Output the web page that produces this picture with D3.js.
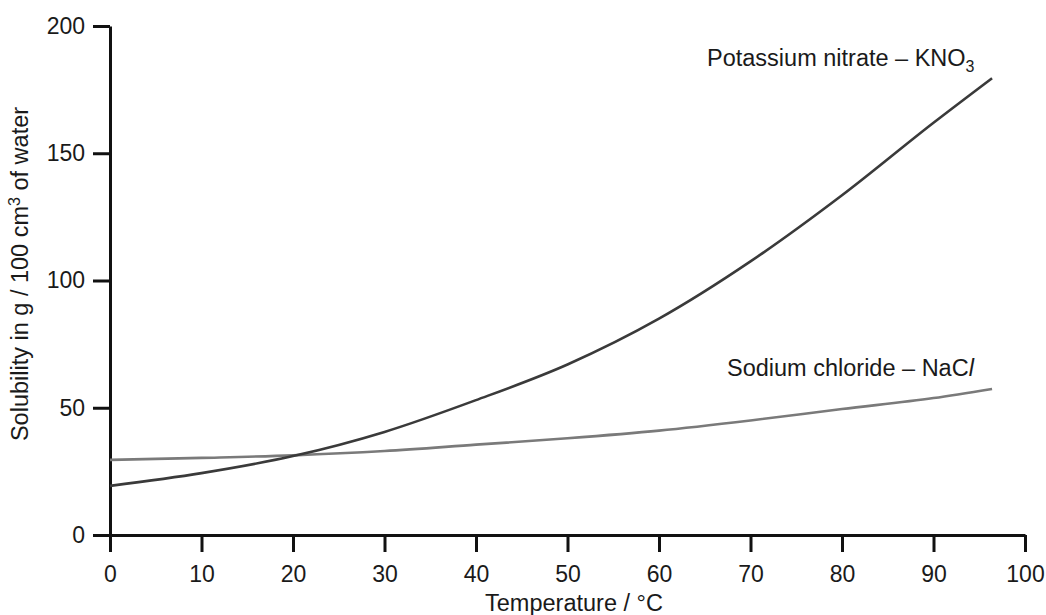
<!DOCTYPE html>
<html>
<head>
<meta charset="utf-8">
<script src="https://cdn.jsdelivr.net/npm/d3@7"></script>
<style>
  body { margin: 0; background: #fff; }
  svg text { font-family: "Liberation Sans", Arial, sans-serif; fill: #1a1a1a; }
</style>
</head>
<body>
<div id="chart"></div>
<script>
// Datos
const temperatures = [0, 10, 20, 30, 40, 50, 60, 70, 80, 90, 96.4];
const kno3Values = [19.3, 24.3, 31, 40.5, 53, 67, 85, 107.5, 133.5, 162, 179.5];
const naclValues = [29.5, 30.3, 31.3, 33, 35.5, 38, 41, 45, 49.5, 53.8, 57.4];
const xTicks = [0, 10, 20, 30, 40, 50, 60, 70, 80, 90, 100];
const yTicks = [0, 50, 100, 150, 200];

const width = 1046;
const height = 615;
const labelSize = 23.5;

const svg = d3
  .select("#chart")
  .append("svg")
  .attr("width", width)
  .attr("height", height);

const x = d3.scaleLinear().domain([0, 100]).range([110, 1025]);
const y = d3.scaleLinear().domain([0, 200]).range([535, 26]);

// Ejes
const xAxis = svg
  .append("g")
  .attr("transform", `translate(0,${y(0)})`)
  .call(d3.axisBottom(x).tickValues(xTicks).tickSize(17).tickSizeOuter(0).tickPadding(14));

const yAxis = svg
  .append("g")
  .attr("transform", `translate(${x(0)},0)`)
  .call(d3.axisLeft(y).tickValues(yTicks).tickSize(17).tickSizeOuter(0).tickPadding(8));

[xAxis, yAxis].forEach((a) => {
  a.select(".domain").attr("stroke", "#111").attr("stroke-width", 3);
  a.selectAll(".tick line").attr("stroke", "#111").attr("stroke-width", 3);
  a.selectAll(".tick text")
    .attr("font-size", 23)
    .attr("font-family", '"Liberation Sans", Arial, sans-serif')
    .attr("fill", "#1a1a1a");
});

// Curvas
const line = (vals) =>
  d3
    .line()
    .x((d, i) => x(temperatures[i]))
    .y((d) => y(d))
    .curve(d3.curveMonotoneX)(vals);

svg.append("path")
  .attr("d", line(naclValues))
  .attr("fill", "none")
  .attr("stroke", "#7a7a7a")
  .attr("stroke-width", 2.6);

svg.append("path")
  .attr("d", line(kno3Values))
  .attr("fill", "none")
  .attr("stroke", "#3a3a3a")
  .attr("stroke-width", 2.6);

// Etiquetas de las curvas
const kLabel = svg.append("text").attr("x", 707).attr("y", 66).attr("font-size", labelSize);
kLabel.append("tspan").text("Potassium nitrate – KNO");
kLabel.append("tspan").attr("dy", 6).attr("font-size", 16).text("3");

const nLabel = svg.append("text").attr("x", 727).attr("y", 376).attr("font-size", labelSize);
nLabel.append("tspan").text("Sodium chloride – NaC");
nLabel.append("tspan").attr("font-style", "italic").text("l");

// Títulos de ejes
svg.append("text")
  .attr("x", 574)
  .attr("y", 611)
  .attr("text-anchor", "middle")
  .attr("font-size", labelSize)
  .text("Temperature / °C");

const yLabel = svg.append("text")
  .attr("transform", "translate(28,274) rotate(-90)")
  .attr("text-anchor", "middle")
  .attr("font-size", labelSize);
yLabel.append("tspan").text("Solubility in g / 100 cm");
yLabel.append("tspan").attr("dy", -8).attr("font-size", 16).text("3");
yLabel.append("tspan").attr("dy", 8).text(" of water");
</script>
</body>
</html>
